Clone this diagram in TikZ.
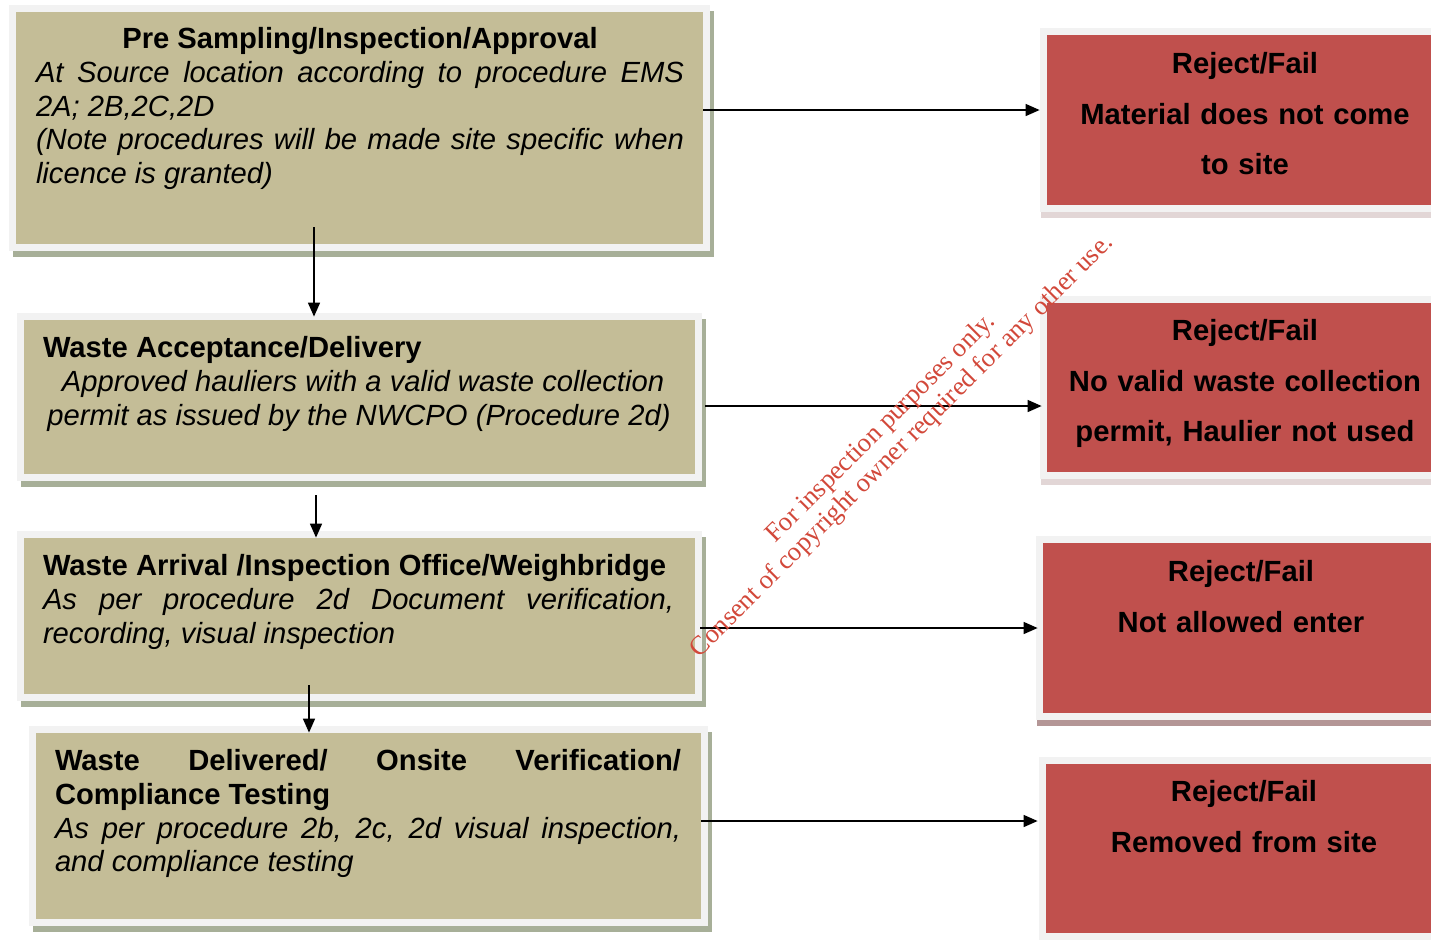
\documentclass[tikz,border=0pt]{standalone}
\usepackage{fontspec}
\setmainfont{Liberation Sans}
\newfontfamily\stampfont{Liberation Serif}
\usetikzlibrary{arrows.meta,fit}
\setlength\parindent{0pt}
\tolerance=10000
\hyphenpenalty=10000
\definecolor{tanfill}{HTML}{C4BD97}
\definecolor{tanshade}{HTML}{A7AF98}
\definecolor{framegray}{HTML}{F2F2F2}
\definecolor{failred}{HTML}{C0504D}
\definecolor{failshade}{HTML}{B49696}
\definecolor{failshadelight}{HTML}{E2D6D6}
\definecolor{stampred}{HTML}{D2483A}
\tikzset{
  stepbox/.style={fill=tanfill, inner sep=0pt,
    preaction={fill=tanshade, draw=tanshade, line width=7pt, transform canvas={shift={(2pt,-3pt)}}},
    preaction={draw=framegray, line width=7pt}},
  failbox/.style={fill=failred, inner sep=0pt,
    preaction={fill=#1, draw=#1, line width=7pt, transform canvas={shift={(0.5pt,-3pt)}}},
    preaction={draw=framegray, line width=7pt}},
  failbox/.default=failshadelight,
  steptext/.style={anchor=base, inner sep=0pt, align=justify, font=\fontsize{14.6}{16.9}\selectfont},
  failtext/.style={anchor=base, inner sep=0pt, text width=200pt, align=center, font=\fontsize{14.6}{25.25}\selectfont\bfseries},
  flow/.style={-{Triangle[length=7pt,width=6pt]}, line width=0.75pt},
  stamp/.style={anchor=base, rotate=45, inner sep=0pt, text=stampred, font=\stampfont\fontsize{13.3}{14}\selectfont}
}

\begin{document}
\begin{tikzpicture}[x=0.5pt, y=-0.5pt]
  \useasboundingbox (0,0) rectangle (1431,939);
  % process steps
  \node[stepbox, fit={(16,12) (703,244)}] (pre) {};
  \node[stepbox, fit={(24,320) (695,474)}] (acc) {};
  \node[stepbox, fit={(24,538) (695,694)}] (arr) {};
  \node[stepbox, fit={(36,733) (701,919)}] (del) {};
  \node[steptext, text width=324pt] (pretext) at (360,48.5) {{\centering\bfseries Pre Sampling/Inspection/Approval\par}\itshape At Source location according to procedure EMS\linebreak 2A; 2B,2C,2D\par (Note procedures will be made site specific when\linebreak licence is granted)};
  \node[steptext, text width=316pt] (acctext) at (359,357.5) {{\raggedright\bfseries Waste Acceptance/Delivery\par}{\centering\itshape \ Approved hauliers with a valid waste collection\par permit as issued by the NWCPO (Procedure 2d)\par}};
  \node[steptext, text width=315.5pt] (arrtext) at (358.5,575.5) {{\raggedright\bfseries Waste Arrival /Inspection Office/Weighbridge\par}\itshape As per procedure 2d Document verification,\linebreak recording, visual inspection};
  \node[steptext, text width=313pt] (deltext) at (368,770.5) {\bfseries Waste Delivered/ Onsite Verification/\linebreak Compliance Testing\par\mdseries\itshape As per procedure 2b, 2c, 2d visual inspection,\linebreak and compliance testing};
  % rejections
  \node[failbox, fit={(1047,35) (1445,205)}] (rej1) {};
  \node[failbox, fit={(1047,303) (1445,472)}] (rej2) {};
  \node[failbox=failshade, fit={(1043,543) (1445,713)}] (rej3) {};
  \node[failbox, fit={(1046,764) (1445,933)}] (rej4) {};
  \node[failtext] (rej1text) at (1245,73.5) {Reject/Fail\\Material does not come\\to site};
  \node[failtext] (rej2text) at (1245,340.5) {Reject/Fail\\No valid waste collection\\permit, Haulier not used};
  \node[failtext] (rej3text) at (1241,581.5) {Reject/Fail\\Not allowed enter};
  \node[failtext] (rej4text) at (1244,801.5) {Reject/Fail\\Removed from site};
  % connectors
  \coordinate (out1) at ([yshift=9pt]pre.east);
  \coordinate (out2) at ([xshift=5pt,yshift=-4.5pt]acc.east);
  \coordinate (out3) at ([xshift=2.5pt,yshift=-6pt]arr.east);
  \coordinate (out4) at ([yshift=2.5pt]del.east);
  \draw[flow, shorten >=3.5pt] (out1) -- (out1 -| rej1.west);
  \draw[flow, shorten >=2.5pt] (out2) -- (out2 -| rej2.west);
  \draw[flow, shorten >=2.5pt] (out3) -- (out3 -| rej3.west);
  \draw[flow, shorten >=4pt] (out4) -- (out4 -| rej4.west);
  \coordinate (down1) at ([xshift=-22.75pt,yshift=8.5pt]pre.south);
  \coordinate (down2) at ([xshift=-21.75pt,yshift=-10.5pt]acc.south);
  \coordinate (down3) at ([xshift=-25.25pt,yshift=4.5pt]arr.south);
  \draw[flow, shorten >=1.5pt] (down1) -- (down1 |- acc.north);
  \draw[flow] (down2) -- (down2 |- arr.north);
  \draw[flow] (down3) -- (down3 |- del.north);
  % watermark
  \node[stamp] (stamp1) at (886,433) {For inspection purposes only.};
  \node[stamp] (stamp2) at (907,451) {Consent of copyright owner required for any other use.};
\end{tikzpicture}
\end{document}
